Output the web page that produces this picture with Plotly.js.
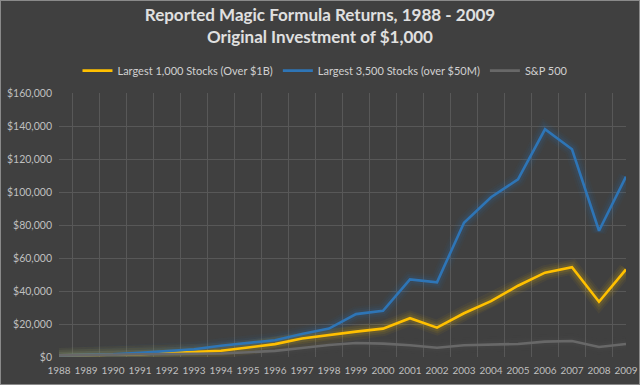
<!DOCTYPE html>
<html>
<head>
<meta charset="utf-8">
<script src="https://cdn.plot.ly/plotly-3.0.1.min.js"></script>
<style>
html,body{margin:0;padding:0;background:#404040;}
#wrap{position:relative;width:640px;height:385px;}
#chart{width:640px;height:385px;}
#frame{position:absolute;left:0;top:0;width:638px;height:383px;border:1px solid #8a8a8a;pointer-events:none;}
</style>
</head>
<body>
<div id="wrap"><div id="chart"></div><div id="frame"></div></div>
<script>
const years = ["1988","1989","1990","1991","1992","1993","1994","1995","1996","1997","1998","1999","2000","2001","2002","2003","2004","2005","2006","2007","2008","2009"];
const largest1000 = [1000,1200,1300,1700,2400,3000,3800,5800,7800,11200,13500,15400,17200,23500,17800,26500,33900,43200,51100,54400,33500,53100];
const largest3500 = [1000,1400,1600,2500,3500,4700,6800,8300,10200,14000,17200,26000,28000,47000,45300,81400,96800,107700,138000,125900,76500,109300];
const sp500 = [1000,1300,1300,1700,1800,2000,2100,2900,3700,5500,7300,8500,8100,7100,5600,7100,7500,7900,9300,9700,6100,7900];
const seriesNames = ["Largest 1,000 Stocks (Over $1B)","Largest 3,500 Stocks (over $50M)","S&P 500"];
const colors = ["#FFC000","#2E75B6","#686868"];
const glowRGB = ["255,192,0","46,117,182","120,120,120"];
const glowStrength = [1, 1, 0.4];
const allData = [largest1000, largest3500, sp500];

const traces = [];
// soft glow layers beneath the lines
const glowLayers = [{w:15,a:0.05},{w:11,a:0.07},{w:7,a:0.10}];
allData.forEach((d,i)=>{
  glowLayers.forEach(g=>{
    traces.push({x:years,y:d,type:"scatter",mode:"lines",showlegend:false,hoverinfo:"skip",
      line:{color:"rgba("+glowRGB[i]+","+(g.a*glowStrength[i]).toFixed(3)+")",width:g.w}});
  });
});
allData.forEach((d,i)=>{
  traces.push({x:years,y:d,type:"scatter",mode:"lines",name:seriesNames[i],
    line:{color:colors[i],width:2.6}});
});

const layout = {
  width:640,height:385,
  paper_bgcolor:"#404040",plot_bgcolor:"#404040",
  margin:{l:59,r:14,t:93,b:28},
  font:{family:"Lato, 'Open Sans', sans-serif",color:"#bfbfbf",size:11},
  title:{text:"<b>Reported Magic Formula Returns, 1988 - 2009<br>Original Investment of $1,000</b>",
    font:{size:17,color:"#e0e0e0"},x:0.5,xanchor:"center",y:0.945,yanchor:"top"},
  showlegend:true,
  legend:{orientation:"h",x:0.47,xanchor:"center",y:1.03,yanchor:"bottom",
    font:{size:11,color:"#d0d0d0"},bgcolor:"rgba(0,0,0,0)",traceorder:"normal",itemwidth:30},
  xaxis:{type:"category",tickson:"boundaries",showgrid:true,gridcolor:"#585858",gridwidth:1,
    ticks:"",tickangle:0,showline:false,zeroline:false,ticklabelstandoff:6,
    tickfont:{size:10,color:"#bfbfbf"},fixedrange:true},
  yaxis:{range:[0,160000],dtick:20000,tickprefix:"$",tickformat:",",showgrid:true,gridcolor:"#585858",
    gridwidth:1,zeroline:false,showline:false,ticks:"",ticklen:0,ticklabelstandoff:6,
    tickfont:{size:10.5,color:"#bfbfbf"},fixedrange:true},
};
Plotly.newPlot("chart",traces,layout,{displayModeBar:false,staticPlot:true});
</script>
</body>
</html>
